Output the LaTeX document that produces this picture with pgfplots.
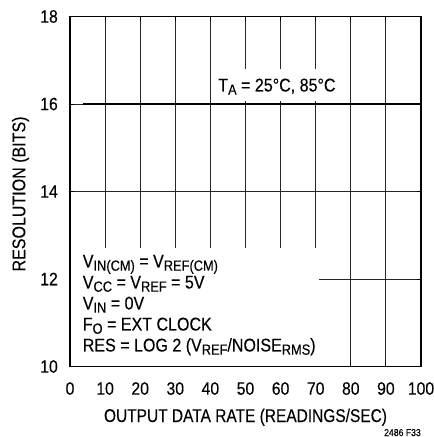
\documentclass[border=0pt]{standalone}
\usepackage{fontspec}
\setmainfont{Liberation Sans}[FakeStretch=0.87, FakeBold=0.15]
\newfontfamily\tickfont{Liberation Sans}[FakeStretch=0.88, FakeBold=0.15]
\newfontfamily\xlabfont{Liberation Sans}[FakeStretch=0.84, FakeBold=0.15]
\usepackage{pgfplots}
\pgfplotsset{compat=1.18}
\pgfplotsset{
  layers/mylayers/.define layer set={axis background,axis grid,pre main,main,axis ticks,axis lines,axis tick labels,axis descriptions,axis foreground}{},
}
\newcommand\sub[1]{\raisebox{-3.2bp}{\fontsize{14.8}{14.8}\selectfont #1}}
\newcommand\tk[1]{{\tickfont\fontsize{18}{18}\selectfont #1}}
\begin{document}
\begin{tikzpicture}
\begin{axis}[
  set layers=mylayers,
  scale only axis,
  width=351bp, height=350bp,
  xmin=0, xmax=100, ymin=10, ymax=18,
  xtick={0,10,...,100}, ytick={10,12,...,18},
  xticklabels={\tk{0},\tk{10},\tk{20},\tk{30},\tk{40},\tk{50},\tk{60},\tk{70},\tk{80},\tk{90},\tk{100}},
  yticklabels={\tk{10},\tk{12},\tk{14},\tk{16},\tk{18}},
  grid=major,
  major grid style={black!85, line width=0.85pt},
  axis line style={black, line width=1.3pt},
  tick style={black, line width=0.85pt},
  major tick length=4bp,
  tick align=inside,
  ticklabel style={inner sep=0pt},
  xticklabel style={anchor=north, yshift=-15.5bp},
  yticklabel style={anchor=east, xshift=-12bp},
  xlabel={\xlabfont OUTPUT DATA RATE (READINGS/SEC)},
  ylabel={RESOLUTION (BITS)},
  label style={font=\fontsize{18.5}{18.5}\selectfont, inner sep=0pt},
  xlabel style={anchor=base, at={(axis description cs:0.5,-0.1586)}},
  ylabel style={anchor=base, at={(axis description cs:-0.1274,0.493)}},
  clip=false,
]
\addplot[black, line width=2.6pt] coordinates {(3.7,16) (100,16)};
\fill[white] (axis cs:0.2,10.02) rectangle (axis cs:70.9,12.70);
\fill[white] (axis cs:41.0,16.08) rectangle (axis cs:77.0,16.81);
\begin{scope}[every node/.style={font=\fontsize{18.5}{18.5}\selectfont, inner sep=0pt, anchor=base west}]
\node at (axis cs:42.2,16.286) {T\sub{A} = 25°C, 85°C};
\node at (axis cs:3.6,12.263) {V\sub{IN(CM)} = V\sub{REF(CM)}};
\node at (axis cs:3.6,11.783) {V\sub{CC} = V\sub{REF} = 5V};
\node at (axis cs:3.6,11.303) {V\sub{IN} = 0V};
\node at (axis cs:3.6,10.823) {F\sub{O} = EXT CLOCK};
\node at (axis cs:3.6,10.343) {RES = LOG 2 (V\sub{REF}/NOISE\sub{RMS})};
\end{scope}
\end{axis}
\node[font=\fontsize{10}{10}\selectfont, inner sep=0pt, anchor=base east] at ([yshift=-69.5bp]current axis.south east) {2486 F33};
\pgfresetboundingbox
\path[use as bounding box] (current axis.south west) ++(-70bp,-70.5bp) rectangle ++(434bp,437bp);
\end{tikzpicture}
\end{document}
